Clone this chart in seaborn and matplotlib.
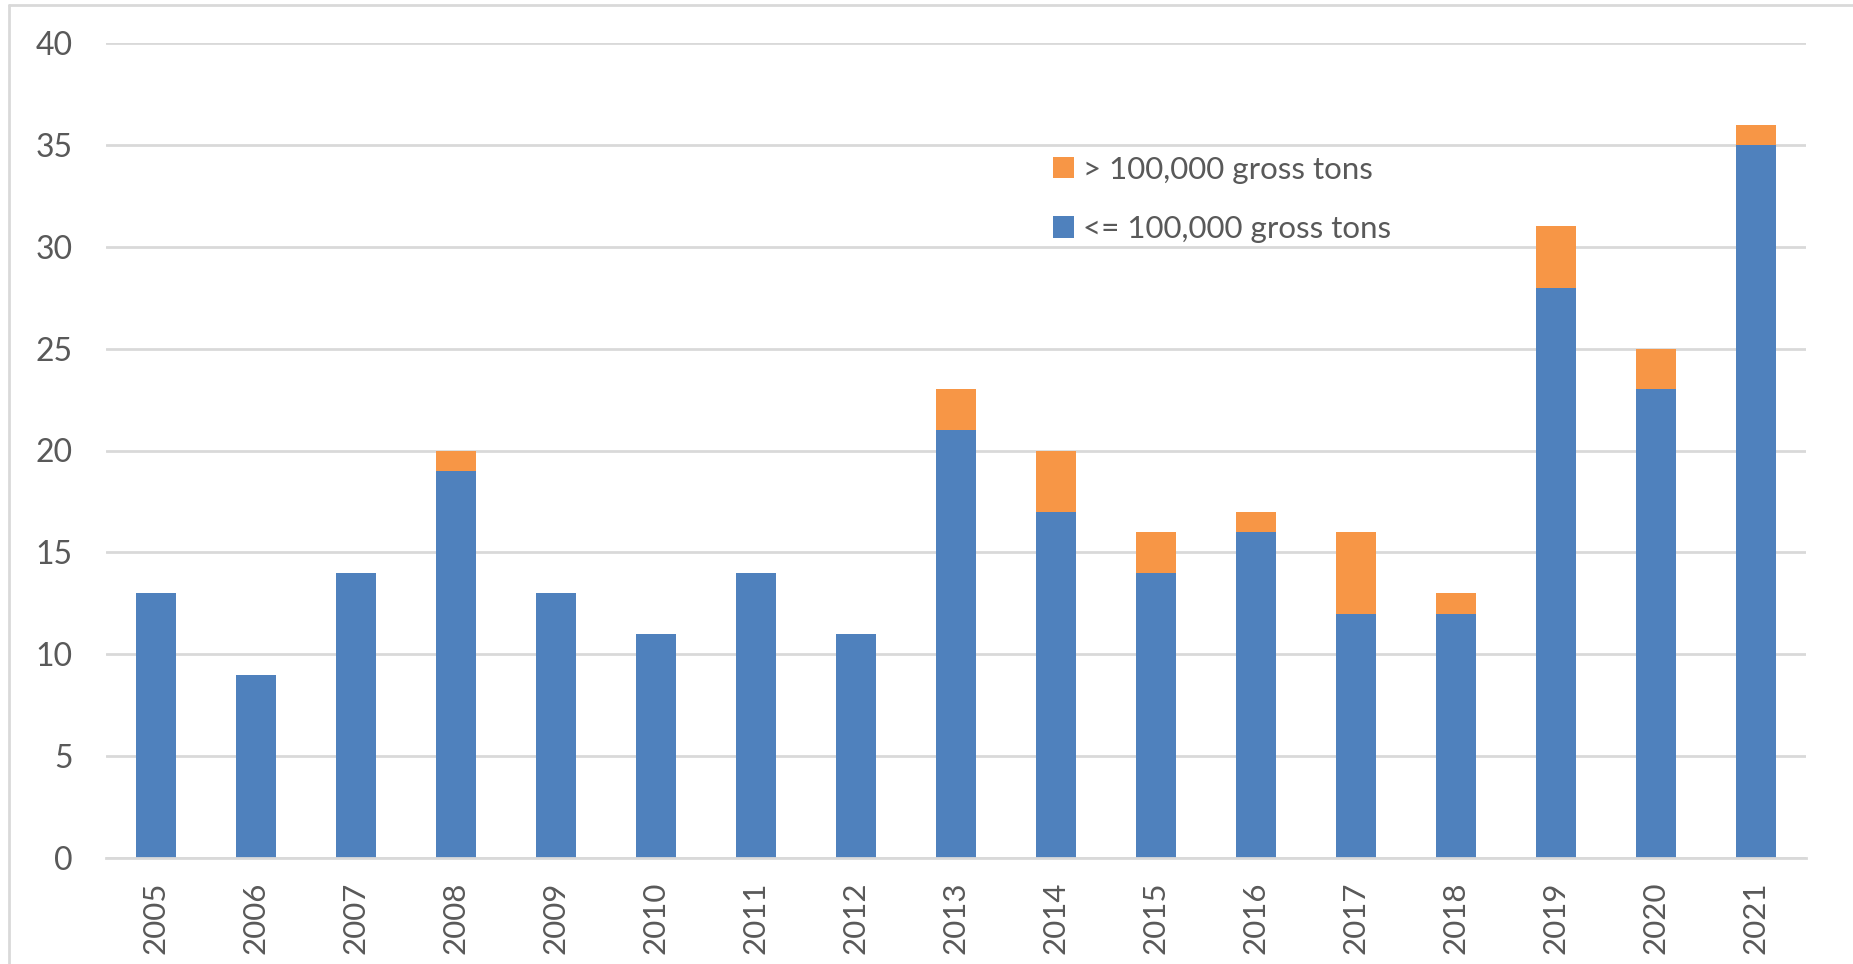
import matplotlib
matplotlib.use("Agg")
import matplotlib.pyplot as plt
from matplotlib.lines import Line2D
from matplotlib.patches import Patch
import seaborn as sns
import pandas as pd
import numpy as np

years = [str(y) for y in range(2005, 2022)]
small_ships = [13, 9, 14, 19, 13, 11, 14, 11, 21, 17, 14, 16, 12, 12, 28, 23, 35]
large_ships = [0, 0, 0, 1, 0, 0, 0, 0, 2, 3, 2, 1, 4, 1, 3, 2, 1]
labels = ["> 100,000 gross tons", "<= 100,000 gross tons"]
y_ticks = [0, 5, 10, 15, 20, 25, 30, 35, 40]

blue = "#4f81bd"
orange = "#f79646"
grey_text = "#595959"
grid_col = "#d9d9d9"

df = pd.DataFrame({"year": years, "small": small_ships, "large": large_ships})
df["total"] = df["small"] + df["large"]

sns.set_style("white")
plt.rcParams["font.family"] = ["Lato", "DejaVu Sans"]

fig = plt.figure(figsize=(18.53, 9.64), dpi=100)
ax = fig.add_axes([106 / 1853, 1 - 858 / 964, 1700 / 1853, (858 - 43) / 964])

# stacked bars: draw totals (orange) then the lower part (blue) over them
sns.barplot(data=df, x="year", y="total", color=orange, width=0.4,
            saturation=1, linewidth=0, ax=ax, zorder=3)
sns.barplot(data=df, x="year", y="small", color=blue, width=0.4,
            saturation=1, linewidth=0, ax=ax, zorder=3)

ax.set_ylim(0, 40)
ax.set_yticks(y_ticks)
ax.set_xlim(-0.5, len(years) - 0.5)
ax.yaxis.grid(True, color=grid_col, linewidth=2, zorder=0)
ax.set_axisbelow(True)
for s in ["top", "right", "left"]:
    ax.spines[s].set_visible(False)
ax.spines["bottom"].set_color(grid_col)
ax.spines["bottom"].set_linewidth(2)
ax.spines["bottom"].set_zorder(4)
ax.set_xlabel("")
ax.set_ylabel("")
ax.tick_params(axis="y", length=0, pad=24, labelsize=23, labelcolor=grey_text)
ax.tick_params(axis="x", length=0, pad=17, labelsize=22.5, labelcolor=grey_text,
               labelrotation=90)

handles = [Patch(facecolor=orange, edgecolor="none"),
           Patch(facecolor=blue, edgecolor="none")]
leg = fig.legend(handles, labels, loc="upper left",
                 bbox_to_anchor=(1040 / 1853, 1 - 143 / 964),
                 frameon=False, fontsize=22.5, handlelength=0.68, handleheight=0.68,
                 handletextpad=0.3, labelspacing=1.0, borderaxespad=0)
for t in leg.get_texts():
    t.set_color(grey_text)

# light chart-area border (only top and left edges visible)
fig.add_artist(Line2D([9 / 1853, 1], [1 - 5 / 964, 1 - 5 / 964],
                      transform=fig.transFigure, color=grid_col, linewidth=2))
fig.add_artist(Line2D([9 / 1853, 9 / 1853], [0, 1 - 5 / 964],
                      transform=fig.transFigure, color=grid_col, linewidth=2))

fig.savefig("out.png", dpi=100)
